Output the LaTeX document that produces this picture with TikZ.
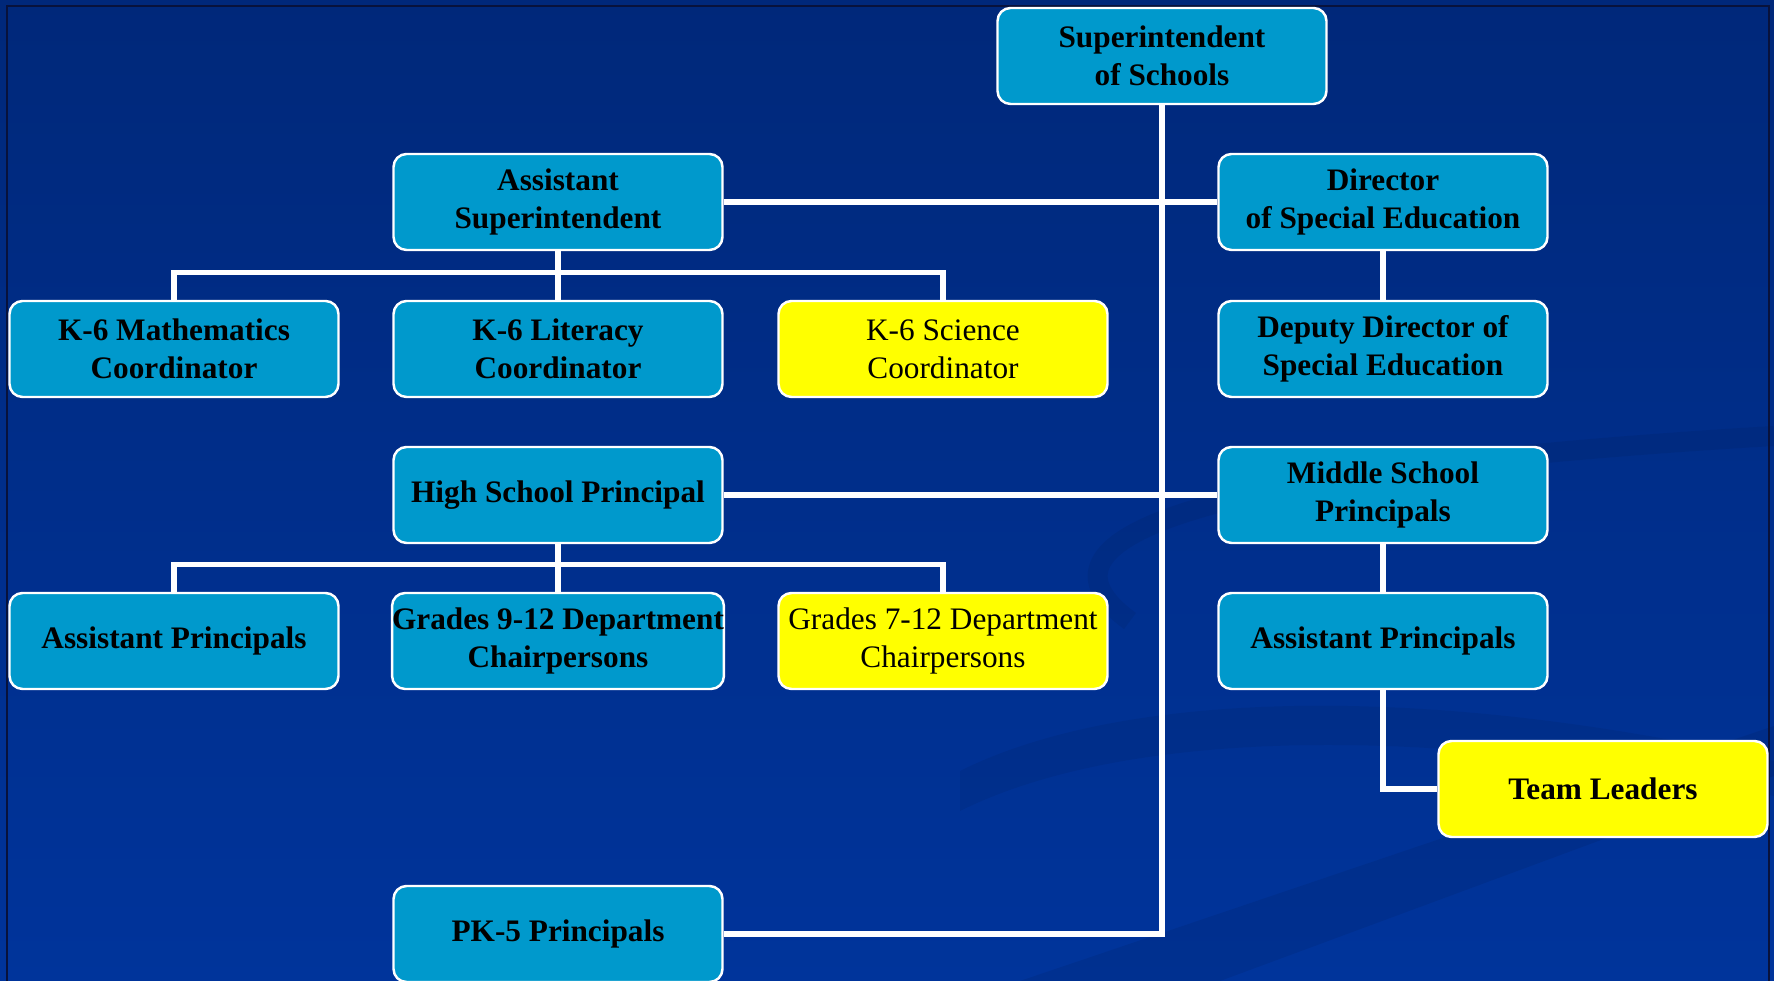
\documentclass[tikz,border=0pt]{standalone}
\usepackage{fontspec}
\setmainfont{Liberation Serif}
\definecolor{fondhaut}{RGB}{0,40,122}
\definecolor{fondbas}{RGB}{0,52,155}
\definecolor{bleuclair}{RGB}{0,153,204}
\definecolor{jaunevif}{RGB}{255,255,0}
\definecolor{cadre}{RGB}{8,18,60}

\begin{document}
\begin{tikzpicture}
\tikzset{poste/.style={draw=white, line width=0.7pt, fill=bleuclair, rounded corners=0.13cm, minimum width=3.29cm, minimum height=0.96cm, align=center, inner sep=0pt, font=\fontsize{8.9}{10.9}\selectfont\bfseries},
jaune/.style={poste, fill=jaunevif, font=\fontsize{8.9}{10.9}\selectfont},
lien/.style={draw=white, line width=1.45pt}}
\useasboundingbox (0, 0) rectangle (17.74, 9.81);
\clip (0, 0) rectangle (17.74, 9.81);
\shade[top color=fondhaut, bottom color=fondbas] (0, 0) rectangle (17.74, 9.81);
\fill[black, opacity=0.07] (10.2, 0) -- (17.74, 2.55) -- (17.74, 2.05) -- (12.2, 0) -- cycle;
\fill[black, opacity=0.06] (9.6, 2.1) .. controls (11.2, 2.9) and (14.2, 3.0) .. (17.74, 2.2) -- (17.74, 1.85) .. controls (14.2, 2.6) and (11.2, 2.5) .. (9.6, 1.7) -- cycle;
\draw[black, opacity=0.06, line width=0.2cm] (11.3, 3.6) .. controls (10.2, 4.4) and (11.8, 5.1) .. (17.74, 5.45);
\draw[cadre, line width=0.8pt] (0.07, 0) -- (0.07, 9.75) -- (17.69, 9.75) -- (17.69, 0);
\node[poste] (sup) at (11.62, 9.25) {Superintendent\\of Schools};
\node[poste] (asup) at (5.58, 7.79) {Assistant\\Superintendent};
\node[poste] (dir) at (13.83, 7.79) {Director\\of Special Education};
\node[poste] (math) at (1.74, 6.32) {K-6 Mathematics\\Coordinator};
\node[poste] (lit) at (5.58, 6.32) {K-6 Literacy\\Coordinator};
\node[jaune] (sci) at (9.43, 6.32) {K-6 Science\\Coordinator};
\node[poste] (dep) at (13.83, 6.32) {Deputy Director of\\Special Education};
\node[poste] (hs) at (5.58, 4.86) {High School Principal};
\node[poste] (ms) at (13.83, 4.86) {Middle School\\Principals};
\node[poste] (hsap) at (1.74, 3.40) {Assistant Principals};
\node[poste] (gr9) at (5.58, 3.40) {Grades 9-12 Department\\Chairpersons};
\node[jaune] (gr7) at (9.43, 3.40) {Grades 7-12 Department\\Chairpersons};
\node[poste] (msap) at (13.83, 3.40) {Assistant Principals};
\node[poste, fill=jaunevif] (team) at (16.03, 1.92) {Team Leaders};
\node[poste] (pk5) at (5.58, 0.47) {PK-5 Principals};
\draw[lien] (sup.south) |- (pk5.east);
\draw[lien] (asup.east) -- (dir.west);
\draw[lien] (hs.east) -- (ms.west);
\draw[lien] (asup.south) -- (lit.north);
\draw[lien] (math.north) -- ++(0, 0.27) -| (sci.north);
\draw[lien] (hs.south) -- (gr9.north);
\draw[lien] (hsap.north) -- ++(0, 0.27) -| (gr7.north);
\draw[lien] (dir.south) -- (dep.north);
\draw[lien] (ms.south) -- (msap.north);
\draw[lien] (msap.south) |- (team.west);
\end{tikzpicture}
\end{document}
